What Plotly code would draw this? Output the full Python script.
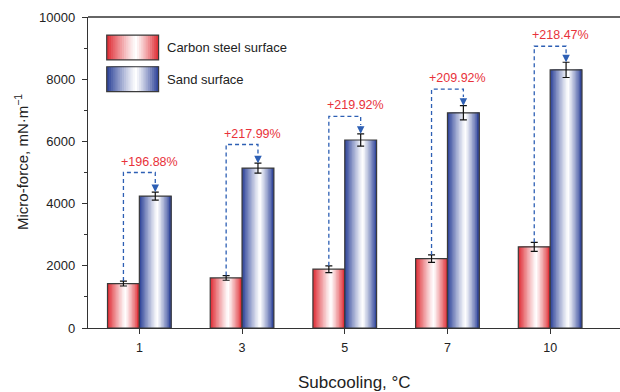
import plotly.graph_objects as go

# ---- data ----
categories = ["1", "3", "5", "7", "10"]
carbon_steel = [1430, 1610, 1890, 2230, 2610]
carbon_err = [80, 75, 110, 120, 145]
sand = [4240, 5140, 6045, 6920, 8300]
sand_err = [130, 160, 200, 230, 245]
increase_labels = ["+196.88%", "+217.99%", "+219.92%", "+209.92%", "+218.47%"]
series_names = ["Carbon steel surface", "Sand surface"]
y_ticks = [0, 2000, 4000, 6000, 8000, 10000]

FONT = "Liberation Sans, Arial, sans-serif"
RED_EDGE = (222, 40, 48)
BLUE_EDGE = (40, 62, 150)
N = 22
BW = 0.31
x = list(range(len(categories)))


def grad_color(edge, t, c=0.56):
    d = (c - t) / c if t < c else (t - c) / (1 - c)
    f = min(1.0, max(0.0, d)) ** 1.15
    r, g, b = [round(255 * (1 - f) + e * f) for e in edge]
    return f"rgb({r},{g},{b})"


fig = go.Figure()

for vals, errs, edge, off, name in [
    (carbon_steel, carbon_err, RED_EDGE, -BW, series_names[0]),
    (sand, sand_err, BLUE_EDGE, 0.0, series_names[1]),
]:
    sw = BW / N
    for i in range(N):
        t = (i + 0.5) / N
        fig.add_trace(go.Bar(
            x=x, y=vals, width=BW - i * sw, offset=off + i * sw,
            marker=dict(color=grad_color(edge, t), line=dict(width=0)),
            showlegend=False, hoverinfo="skip"))
    fig.add_trace(go.Bar(
        x=x, y=vals, width=BW, offset=off, name=name,
        marker=dict(color="rgba(0,0,0,0)", line=dict(color="#3a3a3a", width=1.2)),
        error_y=dict(type="data", array=errs, color="#111", thickness=1.2, width=3.5),
        showlegend=False))

# brackets
BLUE_LINE = "#2d5fb4"
for i in x:
    xr = i - BW / 2
    xb = i + BW / 2
    r_top = carbon_steel[i] + carbon_err[i]
    b_top = sand[i] + sand_err[i]
    level = sand[i] + 760
    arrow_len = 280
    fig.add_trace(go.Scatter(
        x=[xr, xr, xb, xb], y=[r_top, level, level, b_top + arrow_len],
        mode="lines", line=dict(color=BLUE_LINE, width=1.3, dash="4px,3px"),
        showlegend=False, hoverinfo="skip"))
    fig.add_annotation(
        x=xb, y=b_top, ax=xb, ay=b_top + arrow_len, xref="x", yref="y",
        axref="x", ayref="y", text="", showarrow=True, arrowhead=2,
        arrowsize=1.0, arrowwidth=1.5, arrowcolor=BLUE_LINE, standoff=0)
    fig.add_annotation(
        x=i + 0.1, y=level, xref="x", yref="y", text=increase_labels[i],
        showarrow=False, yanchor="bottom", yshift=2,
        font=dict(family=FONT, size=12.5, color="#e8323a"))

# custom legend
shapes = []
for (y0, y1), edge, name in [((0.862, 0.942), RED_EDGE, series_names[0]),
                             ((0.760, 0.840), BLUE_EDGE, series_names[1])]:
    x0, x1 = 0.0352, 0.1327
    M = 24
    sw = (x1 - x0) / M
    for k in range(M):
        shapes.append(dict(type="rect", xref="paper", yref="paper",
                           x0=x0 + k * sw, x1=x1,
                           y0=y0, y1=y1, line=dict(width=0),
                           fillcolor=grad_color(edge, (k + 0.5) / M), layer="above"))
    shapes.append(dict(type="rect", xref="paper", yref="paper", x0=x0, x1=x1,
                       y0=y0, y1=y1, line=dict(color="#3a3a3a", width=1.2), layer="above"))
    fig.add_annotation(x=0.1447, y=(y0 + y1) / 2, xref="paper", yref="paper",
                       text=name, showarrow=False, xanchor="left", yanchor="middle",
                       font=dict(family=FONT, size=13, color="#222"))

# top frame line
shapes.append(dict(type="line", xref="paper", yref="paper", x0=0, x1=1, y0=1, y1=1,
                   line=dict(color="#333", width=1.3)))

fig.add_annotation(x=-0.124, y=0.534, xref="paper", yref="paper",
                   xanchor="center", yanchor="middle",
                   text="Micro-force, mN·m<sup>−1</sup>", textangle=-90,
                   showarrow=False, font=dict(family=FONT, size=15, color="#222"))

fig.add_annotation(x=0.5, y=-0.174, xref="paper", yref="paper",
                   xanchor="center", yanchor="middle",
                   text="Subcooling, °C",
                   showarrow=False, font=dict(family=FONT, size=17, color="#222"))

fig.update_layout(
    width=620, height=392,
    margin=dict(l=88, r=0, t=17, b=64),
    paper_bgcolor="white", plot_bgcolor="white",
    barmode="overlay", shapes=shapes,
    font=dict(family=FONT, size=12, color="#222"),
    xaxis=dict(range=[-0.5, 4.68], tickvals=x, ticktext=categories,
               showgrid=False, zeroline=False, showline=True, linecolor="#333",
               linewidth=1.3, ticks="outside", ticklen=5, tickcolor="#333",
               ticklabelstandoff=3,
               tickfont=dict(family=FONT, size=12.5, color="#222")),
    yaxis=dict(range=[0, 10000], tickvals=y_ticks, ticktext=[str(v) for v in y_ticks],
               showgrid=False, zeroline=False, showline=True, linecolor="#333",
               linewidth=1.3, ticks="outside", ticklen=5, tickcolor="#333",
               ticklabelstandoff=4,
               tickfont=dict(family=FONT, size=13, color="#222"),
               minor=dict(dtick=1000, ticks="outside", ticklen=3, tickcolor="#333")),
)

fig.write_html("out.html")
